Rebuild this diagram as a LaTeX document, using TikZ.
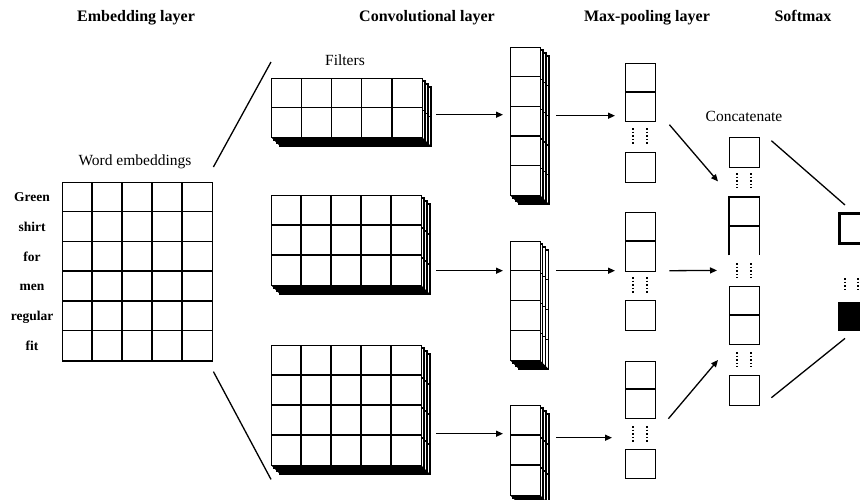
\documentclass[tikz,border=0pt]{standalone}
\usepackage{fontspec}
\setmainfont{Liberation Serif}
\usetikzlibrary{arrows.meta,calc}

\tikzset{
  cellline/.style={line width=1.4pt, draw=black},
  title/.style={font=\fontsize{16}{18}\selectfont\bfseries, anchor=base},
  caption/.style={font=\fontsize{15.5}{18}\selectfont, anchor=base},
  word/.style={font=\fontsize{13.5}{16}\selectfont\bfseries, anchor=base},
  arr/.style={line width=1.3pt, -{Triangle[length=7pt,width=6pt]}},
  link/.style={line width=1.3pt},
  dotline/.style={line width=1.3pt, dash pattern=on 1.6pt off 2pt},
  plainbox/.style={cellline, fill=white, inner sep=0pt, anchor=north west}
}

% A stacked block of cells: front grid plus three receding layers.
% #1 name, #2 x, #3 y, #4 columns, #5 rows, #6 cell width, #7 cell height
\newcommand\layerblock[7]{%
  \pgfmathsetmacro\bw{#4*#6}%
  \pgfmathsetmacro\bh{#5*#7}%
  \pgfmathtruncatemacro\lastrow{#5-1}%
  \foreach \k in {3,2,1}{%
    \begin{scope}[shift={(3*\k,3*\k)}]
      \filldraw[cellline, fill=white] (#2,#3) rectangle ++(\bw,\bh);
      \ifnum\lastrow>0
        \foreach \r in {1,...,\lastrow}{\draw[cellline] (#2,#3+\r*#7) -- ++(\bw,0);}
      \fi
    \end{scope}
  }%
  \fill[black] (#2,#3+\bh) -- ++(\bw,0) -- ++(9,9) -- ++(-\bw,0) -- cycle;
  \node[plainbox, minimum width=\bw pt, minimum height=\bh pt] (#1) at (#2,#3) {};
  \ifnum\lastrow>0
    \foreach \r in {1,...,\lastrow}{\draw[cellline] (#2,#3+\r*#7) -- ++(\bw,0);}
  \fi
  \pgfmathtruncatemacro\lastcol{#4-1}%
  \ifnum\lastcol>0
    \foreach \c in {1,...,\lastcol}{\draw[cellline] (#2+\c*#6,#3) -- ++(0,\bh);}
  \fi
}

% Pair of short dotted strokes marking omitted cells
\newcommand\gapdots[3]{% x-left, y-top, y-bottom
  \draw[dotline] (#1+8,#2) -- (#1+8,#3);
  \draw[dotline] (#1+22,#2) -- (#1+22,#3);
}

\begin{document}
\begin{tikzpicture}[x=1pt, y=-1pt]
  \fill[white] (0,0) rectangle (860,499);
  \clip (0,0) rectangle (860,499);

  % Column headings
  \node[title] (h1) at (136,21) {Embedding layer};
  \node[title] (h2) at (427,21) {Convolutional layer};
  \node[title] (h3) at (647,21) {Max-pooling layer};
  \node[title] (h4) at (803,21) {Softmax};

  % Embedding matrix
  \node[caption] (we) at (135,165) {Word embeddings};
  \node[plainbox, minimum width=150pt, minimum height=178.2pt] (emb) at (62,182) {};
  \foreach \r in {1,...,5}{\draw[cellline] (62,182+\r*29.7) -- ++(150,0);}
  \foreach \c in {1,...,4}{\draw[cellline] (62+\c*30,182) -- ++(0,178.2);}
  \foreach \w [count=\i from 0] in {Green,shirt,for,men,regular,fit}{
    \node[word] (w\i) at (32,{182+29.7*(\i+0.5)+5}) {\w};
  }

  % Filters
  \node[caption] (flt) at (345,65) {Filters};
  \layerblock{f1}{271}{78}{5}{2}{30.2}{29.5}
  \layerblock{f2}{271}{195}{5}{3}{30}{30}
  \layerblock{f3}{271}{345}{5}{4}{30}{30}

  % Feature maps
  \layerblock{c1}{510}{47}{1}{5}{30}{29.6}
  \layerblock{c2}{510}{241}{1}{4}{29.75}{29.75}
  \layerblock{c3}{510}{405}{1}{3}{30}{30}

  % Pooled vectors
  \node[plainbox, minimum width=30pt, minimum height=58pt] (m1a) at (625,63) {};
  \draw[cellline] (625,92) -- (655,92);
  \gapdots{625}{128}{145}
  \node[plainbox, minimum width=30pt, minimum height=30pt] (m1b) at (625,152) {};

  \node[plainbox, minimum width=30pt, minimum height=59pt] (m2a) at (625,212) {};
  \draw[cellline] (625,241) -- (655,241);
  \gapdots{625}{277}{293}
  \node[plainbox, minimum width=30pt, minimum height=30pt] (m2b) at (625,300) {};

  \node[plainbox, minimum width=30pt, minimum height=57pt] (m3a) at (625,361) {};
  \draw[cellline] (625,389) -- (655,389);
  \gapdots{625}{426}{442}
  \node[plainbox, minimum width=30pt, minimum height=29pt] (m3b) at (625,449) {};

  % Concatenated vector
  \node[caption] (cat) at (744,121) {Concatenate};
  \node[plainbox, minimum width=30pt, minimum height=30pt] (cA) at (729,137) {};
  \gapdots{729}{173}{188}
  \node[inner sep=0pt, anchor=north west, minimum width=30pt, minimum height=58pt] (cB) at (729,197) {};
  \draw[cellline] (cB.south west) -- (cB.north west) -- (cB.north east) -- (cB.south east);
  \draw[cellline] (729,226) -- (759,226);
  \gapdots{729}{263}{278}
  \node[plainbox, minimum width=30pt, minimum height=58pt] (cC) at (729,286) {};
  \draw[cellline] (729,315) -- (759,315);
  \gapdots{729}{352}{367}
  \node[plainbox, minimum width=30pt, minimum height=30pt] (cD) at (729,375) {};

  % Softmax outputs
  \node[draw, line width=2.6pt, fill=white, inner sep=0pt, anchor=north west,
        minimum width=34pt, minimum height=30pt] (sT) at (838,212) {};
  \draw[dotline] (845,278) -- (845,292);
  \draw[dotline] (858,278) -- (858,292);
  \node[draw, line width=1.4pt, fill=black, inner sep=0pt, anchor=north west,
        minimum width=34pt, minimum height=28pt] (sB) at (838,302) {};

  % Fan-out from the embedding matrix to the filters
  \draw[link] ([yshift=15pt]emb.north east) -- ([yshift=16pt]f1.north west);
  \draw[link] ([yshift=-10pt]emb.south east) -- ([yshift=-13pt]f3.south west);

  % Arrow start points beside each block
  \coordinate (fa1) at ([shift={(13pt,-6.5pt)}]f1.east);
  \coordinate (fa2) at ([shift={(14pt,-30pt)}]f2.east);
  \coordinate (fa3) at ([shift={(14pt,-28pt)}]f3.east);
  \coordinate (ca1) at ([shift={(15pt,6pt)}]c1.east);
  \coordinate (ca2) at ([shift={(15pt,30.5pt)}]c2.east);
  \coordinate (ca3) at ([shift={(15pt,13pt)}]c3.east);

  % Filters to feature maps
  \draw[arr, shorten >=7pt] (fa1) -- (fa1 -| c1.west);
  \draw[arr, shorten >=7pt] (fa2) -- (fa2 -| c2.west);
  \draw[arr, shorten >=7pt] (fa3) -- (fa3 -| c3.west);

  % Feature maps to pooled vectors
  \draw[arr, shorten >=10pt] (ca1) -- (ca1 -| m1a.west);
  \draw[arr, shorten >=10pt] (ca2) -- (ca2 -| m2a.west);
  \draw[arr, shorten >=13pt] (ca3) -- (ca3 -| m3a.west);

  % Pooled vectors into the concatenation
  \draw[arr] ([shift={(13pt,-32pt)}]m1a.east) -- ([shift={(-11pt,-13pt)}]cA.south west);
  \draw[arr] ([shift={(13pt,-28.5pt)}]m2a.east) -- ([shift={(-12pt,-15pt)}]cB.south west);
  \draw[arr] ([shift={(12pt,-28.5pt)}]m3a.east) -- ([shift={(-11pt,15pt)}]cD.north west);

  % Concatenation to softmax
  \draw[link] ([shift={(11pt,12pt)}]cA.east) -- ([shift={(7pt,7pt)}]sT.north west);
  \draw[link] ([shift={(11pt,-7pt)}]cD.east) -- ([shift={(7pt,-7pt)}]sB.south west);
\end{tikzpicture}
\end{document}
